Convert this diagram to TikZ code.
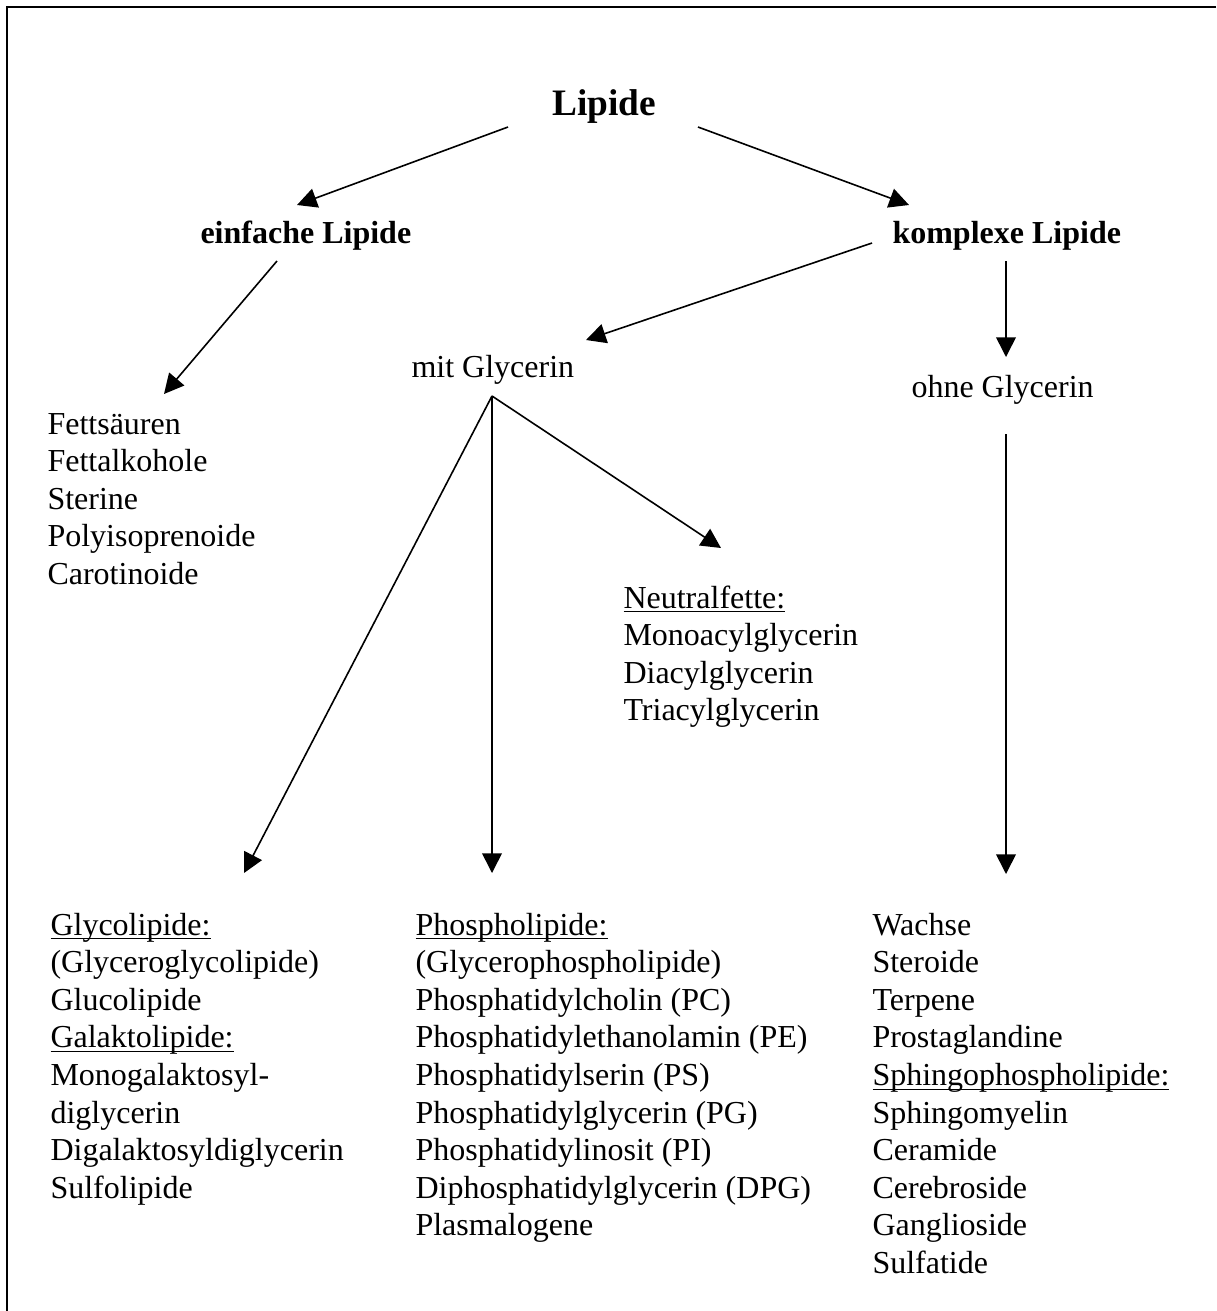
\documentclass[tikz,border=0pt]{standalone}
\usepackage{fontspec}
\setmainfont{Liberation Serif}
\usetikzlibrary{arrows.meta}

\newcommand{\unterstr}[1]{\underline{\smash{#1}}}

\tikzset{
  txt/.style={anchor=base west, inner sep=0pt, align=left, font=\fontsize{12}{14.1}\selectfont},
  kopf/.style={anchor=base west, inner sep=0pt, font=\fontsize{12}{14.1}\selectfont\bfseries},
  pfeil/.style={line width=0.6pt, -{Triangle[length=7.4pt,width=7.4pt]}},
}

\begin{document}
\begin{tikzpicture}[x=0.375pt,y=0.375pt,yscale=-1,xscale=1]
\useasboundingbox (0,0) rectangle (1216,1311);

%Rahmen
\draw [line width=1.1pt] (1216,7) -- (7,7) -- (7,1311);

%Texte (bei mehrzeiligen Knoten: Grundlinie der letzten Zeile)
\node [anchor=base, inner sep=0pt, font=\fontsize{14}{16}\selectfont\bfseries] (lipide) at (604,115) {Lipide};
\node [kopf] (einfach) at (200,243) {einfache Lipide};
\node [kopf] (komplex) at (892,243) {komplexe Lipide};
\node [txt] (mitgly) at (411,377) {mit Glycerin};
\node [txt] (ohnegly) at (911,397) {ohne Glycerin};
\node [txt] (einfliste) at (47,584.4) {Fettsäuren\\Fettalkohole\\Sterine\\Polyisoprenoide\\Carotinoide};
\node [txt] (neutral) at (623,720.8) {\unterstr{Neutralfette:}\\Monoacylglycerin\\Diacylglycerin\\Triacylglycerin};
\node [txt] (glyco) at (50,1198.2) {\unterstr{Glycolipide:}\\(Glyceroglycolipide)\\Glucolipide\\\unterstr{Galaktolipide:}\\Monogalaktosyl-\\diglycerin\\Digalaktosyldiglycerin\\Sulfolipide};
\node [txt] (phospho) at (415,1235.8) {\unterstr{Phospholipide:}\\(Glycerophospholipide)\\Phosphatidylcholin (PC)\\Phosphatidylethanolamin (PE)\\Phosphatidylserin (PS)\\Phosphatidylglycerin (PG)\\Phosphatidylinosit (PI)\\Diphosphatidylglycerin (DPG)\\Plasmalogene};
\node [txt] (ohneliste) at (872,1273.4) {Wachse\\Steroide\\Terpene\\Prostaglandine\\\unterstr{Sphingophospholipide:}\\Sphingomyelin\\Ceramide\\Cerebroside\\Ganglioside\\Sulfatide};

%Pfeilenden
\coordinate (lipL) at (508,127);
\coordinate (lipR) at (698,127);
\coordinate (einfU) at (277,261);
\coordinate (kompL) at (872,243);
\coordinate (kompU) at (1006,261);
\coordinate (mitU) at (492,396);
\coordinate (ohneU) at (1006,434);
\coordinate (einfO) at (297,205);
\coordinate (kompO) at (909,205);
\coordinate (listeO) at (164,394);
\coordinate (mitO) at (586,340);
\coordinate (ohneO) at (1006,357);
\coordinate (neutralO) at (721,548);
\coordinate (glycoO) at (244,873);
\coordinate (phosphoO) at (492,873);
\coordinate (restO) at (1006,874);

%Pfeile
\draw [pfeil] (lipL) -- (einfO);
\draw [pfeil] (lipR) -- (kompO);
\draw [pfeil] (einfU) -- (listeO);
\draw [pfeil] (kompL) -- (mitO);
\draw [pfeil] (kompU) -- (ohneO);
\draw [pfeil] (mitU) -- (glycoO);
\draw [pfeil] (mitU) -- (phosphoO);
\draw [pfeil] (mitU) -- (neutralO);
\draw [pfeil] (ohneU) -- (restO);
\end{tikzpicture}
\end{document}
